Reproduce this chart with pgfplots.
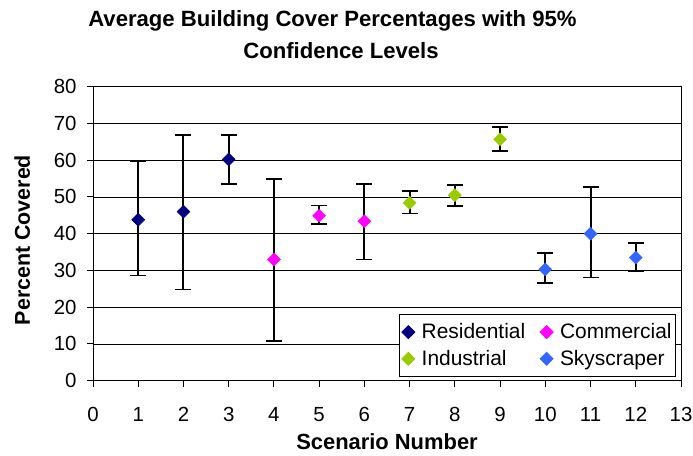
\documentclass[border=0pt]{standalone}
\usepackage{fontspec}
\setmainfont{Liberation Sans}
\usepackage{pgfplots}
\pgfplotsset{compat=1.18}
\usepackage{pgfplotstable}
\definecolor{resid}{HTML}{000080}
\definecolor{comm}{HTML}{FF00FF}
\definecolor{indus}{HTML}{99CC00}
\definecolor{sky}{HTML}{3366FF}
\pgfplotstableread{
x y ep em
1 43.8 16.0 15.2
2 46.0 20.8 21.2
3 60.2 6.6 6.6
}\resid
\pgfplotstableread{
x y ep em
4 33.0 21.8 22.3
5 44.9 2.8 2.2
6 43.4 10.2 10.4
}\comm
\pgfplotstableread{
x y ep em
7 48.4 3.2 2.9
8 50.5 2.7 2.9
9 65.7 3.3 3.2
}\indus
\pgfplotstableread{
x y ep em
10 30.3 4.4 3.8
11 40.0 12.6 11.9
12 33.5 3.9 3.8
}\sky
\pgfplotsset{myleg/.style={legend image code/.code={\path (0bp,0bp) (18bp,0bp); \draw[##1] plot coordinates {(7bp,0bp)};}}}
\begin{document}
\begin{tikzpicture}
\useasboundingbox (-93bp,-75.3bp) rectangle (600bp,380.7bp);
\begin{axis}[
  at={(0,0)}, anchor=south west,
  scale only axis, width=588bp, height=294bp,
  xmin=0, xmax=13, ymin=0, ymax=80,
  xtick={0,...,13}, ytick={0,10,...,80},
  ymajorgrids, grid style={black, line width=0.8bp},
  axis line style={black, line width=1bp},
  tick style={black, line width=1bp},
  tick align=outside, major tick length=6bp,
  xtick pos=bottom, ytick pos=left,
  /pgf/number format/assume math mode=true,
  tick label style={font=\fontsize{20.5}{24}\selectfont},
  xticklabel style={yshift=-17bp},
  yticklabel style={xshift=-7bp},
  every error bar/.style={black, line width=2bp},
  error bars/error mark options={rotate=90, black, mark size=8bp, line width=1.8bp},
  legend columns=2,
  legend style={at={(0.9915,0.0126)}, anchor=south east, draw=black, line width=0.8bp,
     font=\fontsize{21}{25}\selectfont, inner xsep=2bp, inner ysep=7.5bp, row sep=6bp,
     /tikz/every even column/.append style={column sep=12bp}},
  legend cell align=left,
]
\addplot[only marks, myleg, mark=square*, mark size=4.6bp, mark options={rotate=45, resid, draw=resid, fill=resid},
  error bars/.cd, y dir=both, y explicit]
  table[x=x, y=y, y error plus=ep, y error minus=em] {\resid};
\addlegendentry{Residential}
\addplot[only marks, myleg, mark=square*, mark size=4.6bp, mark options={rotate=45, comm, draw=comm, fill=comm},
  error bars/.cd, y dir=both, y explicit]
  table[x=x, y=y, y error plus=ep, y error minus=em] {\comm};
\addlegendentry{Commercial}
\addplot[only marks, myleg, mark=square*, mark size=4.6bp, mark options={rotate=45, indus, draw=indus, fill=indus},
  error bars/.cd, y dir=both, y explicit]
  table[x=x, y=y, y error plus=ep, y error minus=em] {\indus};
\addlegendentry{Industrial}
\addplot[only marks, myleg, mark=square*, mark size=4.6bp, mark options={rotate=45, sky, draw=sky, fill=sky},
  error bars/.cd, y dir=both, y explicit]
  table[x=x, y=y, y error plus=ep, y error minus=em] {\sky};
\addlegendentry{Skyscraper}
\end{axis}
\node[anchor=base, font=\bfseries\fontsize{22.2}{26}\selectfont] at (239.5bp,354bp) {Average Building Cover Percentages with 95\%};
\node[anchor=base, font=\bfseries\fontsize{22.2}{26}\selectfont] at (248bp,322.4bp) {Confidence Levels};
\node[anchor=base, font=\bfseries\fontsize{22}{26}\selectfont] at (294bp,-69bp) {Scenario Number};
\node[anchor=base, rotate=90, font=\bfseries\fontsize{21.5}{26}\selectfont] at (-63bp,140.7bp) {Percent Covered};
\end{tikzpicture}
\end{document}
